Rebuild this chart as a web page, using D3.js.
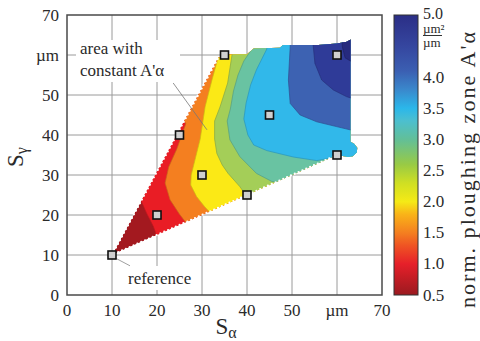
<!DOCTYPE html>
<html><head><meta charset="utf-8">
<script src="https://cdn.jsdelivr.net/npm/d3@7"></script>
<style>body{margin:0;background:#fff}svg{display:block}</style>
</head><body>
<svg id="c" width="480" height="341" font-family="'Liberation Serif', 'DejaVu Serif', serif"></svg>
<script>
// ---------- data ----------
const xTicks = [0,10,20,30,40,50,60,70];
const xTickLabels = ["0","10","20","30","40","50","µm","70"];
const yTicks = [0,10,20,30,40,50,60,70];
const yTickLabels = ["0","10","20","30","40","50","µm","70"];
const cbTicks = [0.5,1.0,1.5,2.0,2.5,3.0,3.5,4.0,5.0];
const cbTickLabels = ["0.5","1.0","1.5","2.0","2.5","3.0","3.5","4.0","5.0"];
// measured parameter points (Sα, Sγ)
const pointsX = [10,20,25,30,35,40,45,60,60];
const pointsY = [10,20,40,30,60,25,45,60,35];
// boundary of the evaluated area (Sα, Sγ)
const domain = [[10,10],[33.6,59.3],[35.5,60.1],[40,60.2],[41.5,61.6],[47.3,61.8],[48,62.5],[55.8,62.5],[59.9,62.9],[62.2,63.3],[63,63.9],
  [63,38.3],[63.8,37.8],[64.5,36.8],[64.4,35.6],[63.5,34.7],[62.5,34.5],[60,35]];
// iso-lines of A'α (Sα, Sγ), low values lie to the lower left
const isoLevels = [1.0,1.5,2.0,2.5,3.0,3.5,4.0,4.5,4.8];
const isoLines = [
  [[15.6,25.5],[16.2,24.2],[17.7,20.4],[19.2,17.1],[19.6,15.8],[19.9,13.5]],
  [[25.6,44.5],[26.4,42.8],[24.4,36.5],[22.6,32],[21.8,28],[22.9,23.8],[25,20.2],[26.3,18.3],[26.8,16.5]],
  [[33.8,62],[33.5,59],[32.2,53.7],[30.7,47.1],[29.6,39],[28.6,34.5],[27.6,30],[27.5,27.5],[28.8,24.6],[30.5,22.2],[31.8,20.6],[32.3,19.3]],
  [[37,62.5],[36.6,59.5],[35.7,53],[34,47],[32.8,43.5],[32.8,39],[33.3,35.4],[34.5,32.5],[35.8,30.4],[38.4,27.1],[39.6,25.2],[40.2,23.5]],
  [[41.2,64],[40.8,61],[39.3,58.5],[38,55],[37,51],[36.3,46.5],[35.6,43.5],[36.2,38.8],[38.4,34.6],[42.1,30.4],[45.5,28.4],[46.8,28.2],[47.8,26.5]],
  [[44.6,64],[44.4,61.5],[42.1,56.3],[40.8,52.5],[39.8,48],[39.3,44],[40.2,40],[41.5,37.5],[44.4,36.1],[50.3,34.5],[55.5,33.6],[58,34.1],[58.6,33]],
  [[49.6,64],[49.6,62],[49.2,53.75],[49.6,47.9],[51.8,45],[55.5,43.3],[59.9,42.1],[62.9,41.3],[66,41]],
  [[54.6,64],[54.7,62.5],[55.1,57.9],[56.6,53.75],[59.2,51.25],[62.1,49.6],[63.2,49.2],[66,49]],
  [[61,65],[61.2,62],[61.8,59.3],[63,58.5],[66,58]]
];
const baseColor = "#a3191f";
const bandColors = ["#e91d25","#f47f20","#fbe916","#a4ce58","#69c3a2","#31b8ea","#3d62b2","#2f3b98","#262a7e"];
const cbStops = [[0.5,"#9a1a20"],[0.8,"#c81d25"],[1.0,"#e6202a"],[1.3,"#ef5523"],[1.5,"#f47f20"],[1.8,"#f9b418"],[2.0,"#f5ea16"],[2.3,"#cfdf23"],[2.6,"#98ca45"],[3.0,"#62bf98"],[3.3,"#4cbfcf"],[3.5,"#2bb7ea"],[3.8,"#3a88cc"],[4.1,"#3b5fb2"],[4.5,"#35469f"],[5.0,"#2b2e86"]];

// ---------- scales ----------
const svg = d3.select("#c");
const x = d3.scaleLinear([0,70],[67,382]);
const y = d3.scaleLinear([0,70],[295,15]);
const cy = d3.scaleLinear([0.5,5],[295,15]);
const line = d3.line().x(d=>x(d[0])).y(d=>y(d[1]));
const ink = "#2a2a2a";

// grid
const grid = svg.append("g").attr("stroke","#9a9a9a").attr("stroke-width",1);
grid.selectAll(".gx").data(xTicks.slice(1,-1)).join("line")
  .attr("x1",d=>x(d)).attr("x2",d=>x(d)).attr("y1",y(0)).attr("y2",y(70));
grid.selectAll(".gy").data(yTicks.slice(1,-1)).join("line")
  .attr("y1",d=>y(d)).attr("y2",d=>y(d)).attr("x1",x(0)).attr("x2",x(70));

// label backgrounds
svg.append("rect").attr("x",76).attr("y",40).attr("width",104).attr("height",42).attr("fill","#fff");
svg.append("rect").attr("x",125).attr("y",266).attr("width",75).attr("height",24).attr("fill","#fff");

// contour area
const defs = svg.append("defs");
defs.append("clipPath").attr("id","dom").append("path").attr("d",line(domain)+"Z");
const area = svg.append("g").attr("clip-path","url(#dom)");
area.append("path").attr("d",line(domain)+"Z").attr("fill",baseColor);
isoLines.forEach((iso,i)=>{
  const f = iso[0], l = iso[iso.length-1];
  const poly = iso.concat([[80,l[1]],[80,80],[f[0],80]]);
  area.append("path").attr("d",line(poly)+"Z").attr("fill",bandColors[i])
    .attr("stroke",d3.color(bandColors[i]).darker(0.6)).attr("stroke-width",0.7);
});
// serrated lower edges
[[domain[0],domain[1]],[domain[domain.length-1],domain[0]]].forEach(seg=>{
  svg.append("path").attr("d",line(seg)).attr("stroke","#fff").attr("stroke-width",2.3)
    .attr("stroke-linecap","round").attr("stroke-dasharray","0,4.2").attr("fill","none");
});

// frame
svg.append("rect").attr("x",x(0)).attr("y",y(70)).attr("width",x(70)-x(0)).attr("height",y(0)-y(70))
  .attr("fill","none").attr("stroke","#4a4a4a").attr("stroke-width",1.5);

// leader lines
svg.append("path").attr("d",line([[23.6,53],[31.1,41.3]])).attr("stroke","#777").attr("stroke-width",0.8).attr("fill","none");
svg.append("path").attr("d",line([[10.8,9.2],[14,7.3]])).attr("stroke","#888").attr("stroke-width",0.8).attr("fill","none");

// markers
svg.append("g").selectAll("rect").data(pointsX.map((d,i)=>[d,pointsY[i]])).join("rect")
  .attr("x",d=>x(d[0])-4).attr("y",d=>y(d[1])-4).attr("width",8).attr("height",8)
  .attr("fill","#cfcfcf").attr("stroke","#111").attr("stroke-width",1.6);

// tick labels
svg.append("g").attr("fill",ink).selectAll("text").data(xTicks).join("text")
  .attr("x",d=>x(d)).attr("y",316).attr("text-anchor","middle").attr("font-size",17)
  .text((d,i)=>xTickLabels[i]);
svg.append("g").attr("fill",ink).selectAll("text").data(yTicks).join("text")
  .attr("x",59).attr("y",d=>y(d)+6).attr("text-anchor","end").attr("font-size",17)
  .text((d,i)=>yTickLabels[i]);

// axis titles
svg.append("text").attr("fill",ink).attr("x",226).attr("y",334).attr("text-anchor","middle").attr("font-size",23)
  .html('S<tspan font-size="16" dy="4">α</tspan>');
svg.append("text").attr("fill",ink).attr("transform","translate(23,157) rotate(-90)").attr("text-anchor","middle").attr("font-size",23)
  .html('S<tspan font-size="16" dy="4">γ</tspan>');

// annotations
svg.append("text").attr("fill",ink).attr("x",80).attr("y",54).attr("font-size",17).text("area with");
svg.append("text").attr("fill",ink).attr("x",80).attr("y",76).attr("font-size",17).text("constant A'α");
svg.append("text").attr("fill",ink).attr("x",128).attr("y",284).attr("font-size",17).text("reference");

// colorbar
const grad = defs.append("linearGradient").attr("id","cb").attr("x1",0).attr("x2",0).attr("y1",1).attr("y2",0);
cbStops.forEach(s=>grad.append("stop").attr("offset",(s[0]-0.5)/4.5).attr("stop-color",s[1]));
svg.append("rect").attr("x",394).attr("y",cy(5)).attr("width",24).attr("height",cy(0.5)-cy(5))
  .attr("fill","url(#cb)").attr("stroke","#333").attr("stroke-width",1);
svg.append("g").attr("fill",ink).selectAll("text").data(cbTicks).join("text")
  .attr("x",423).attr("y",d=>cy(d)+(d===5?3.5:5.5)).attr("font-size",d=>d===5?16:17).text((d,i)=>cbTickLabels[i]);
svg.append("text").attr("fill",ink).attr("x",423).attr("y",33).attr("font-size",13).text("µm²");
svg.append("line").attr("x1",423).attr("x2",442).attr("y1",35.5).attr("y2",35.5).attr("stroke","#333").attr("stroke-width",1);
svg.append("text").attr("fill",ink).attr("x",423).attr("y",46.5).attr("font-size",13).text("µm");
svg.append("text").attr("fill",ink).attr("transform","translate(475,170) rotate(-90)").attr("text-anchor","middle").attr("font-size",22)
  .attr("textLength",276).attr("lengthAdjust","spacing")
  .text("norm. ploughing zone A'α");
</script>
</body></html>
